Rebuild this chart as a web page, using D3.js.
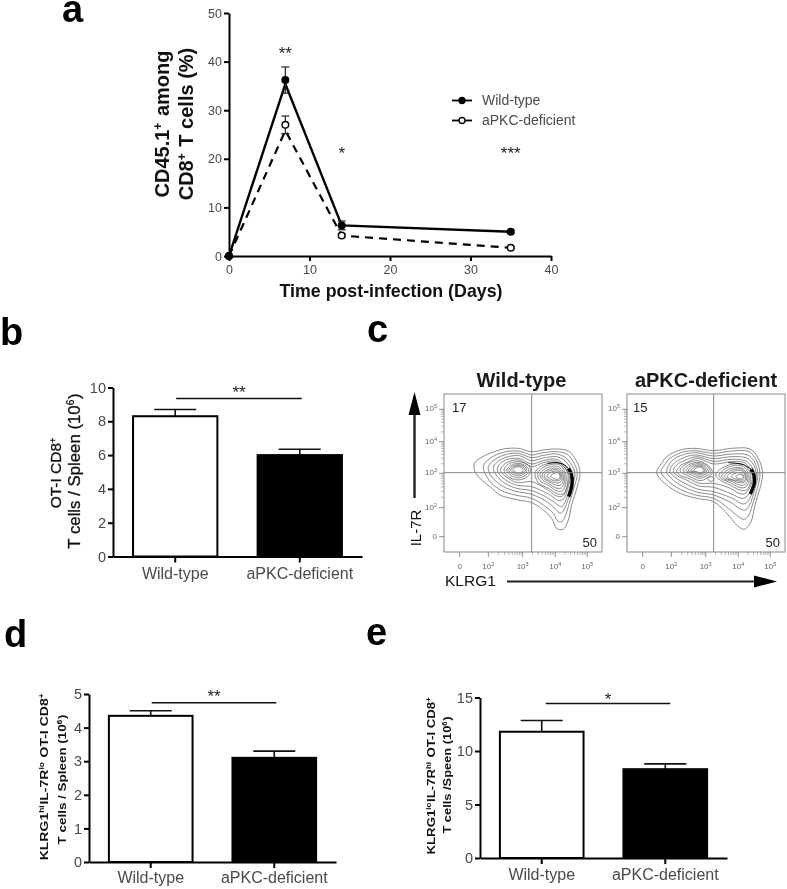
<!DOCTYPE html>
<html><head><meta charset="utf-8">
<script src="https://cdn.jsdelivr.net/npm/d3@7/dist/d3.min.js"></script>
<style>
html,body{margin:0;padding:0;background:#fff}
svg{display:block;filter:blur(.4px)}
text{font-family:"Liberation Sans",Arial,sans-serif}
</style></head><body>
<script>
// ---------- panel a ----------
const days=[0,7,14,35];
const wtLine=[0,35.4,6.3,5];
const koLine=[0,25.8,4.2,1.7];
const wtMean=[0,36.2,6.3,5];
const koMean=[0,27,4.2,1.7];
const wtErr=[0,2.7,0.9,0.3];
const koErr=[0,1.8,0.3,0.2];
const xTicksA=[0,10,20,30,40];
const yTicksA=[0,10,20,30,40,50];
const starsA=[[7,"**",40.6],[14,"*",20],[35,"***",20]];
const seriesNames=["Wild-type","aPKC-deficient"];
// ---------- bars ----------
const cats=["Wild-type","aPKC-deficient"];
const bMeans=[8.3,6.0], bErr=[0.4,0.35];
const dMeans=[4.35,3.1], dErr=[0.15,0.2];
const eMeans=[11.8,8.3], eErr=[1.05,0.5];
// ---------- flow: contour rings in channel units ----------
const flowTicks=[["0",null],["10","2"],["10","3"],["10","4"],["10","5"]];
const xTickChan=[59,145,248,346,442];
const yTickChan=[320,233,130,35,-62];
const gateX=[275,272], gateY=128;
const wtRings=[
[[103,100],[120,85],[150,70],[190,57],[235,55],[275,65],[310,60],[350,57],[385,63],[405,85],[420,125],[412,170],[395,225],[385,270],[370,298],[350,295],[335,265],[310,240],[275,218],[225,208],[180,195],[150,170],[125,150],[105,125]],
[[130,108],[150,85],[190,67],[235,63],[275,75],[310,68],[350,65],[380,72],[398,92],[412,128],[403,170],[388,220],[376,258],[365,275],[352,272],[340,250],[310,225],[275,205],[225,195],[185,182],[155,160],[135,130]],
[[145,110],[165,88],[200,73],[235,70],[275,83],[310,76],[350,72],[375,82],[392,100],[405,130],[396,170],[382,215],[370,243],[360,250],[345,235],[315,212],[275,193],[228,184],[190,170],[162,148],[148,128]],
[[160,112],[180,90],[205,80],[238,77],[275,92],[310,84],[350,80],[372,90],[388,108],[398,132],[390,170],[378,210],[365,230],[350,222],[320,202],[275,182],[230,175],[195,160],[172,140]],
[[172,115],[190,93],[235,85],[275,102],[310,92],[350,88],[385,120],[392,135],[385,170],[372,205],[358,212],[325,192],[275,170],[232,166],[200,152],[180,135]],
[[182,118],[200,98],[235,90],[275,110],[310,98],[350,94],[382,125],[388,140],[380,175],[368,198],[350,198],[320,178],[275,155],[232,158],[205,145],[188,132]],
[[192,120],[205,102],[235,95],[265,105],[272,122],[262,140],[235,150],[205,140]],
[[200,120],[212,106],[235,100],[258,108],[266,122],[256,136],[235,144],[210,134]],
[[206,120],[216,109],[235,104],[254,110],[260,122],[250,133],[235,138],[214,130]],
[[212,120],[220,111],[235,107],[250,112],[256,122],[246,130],[235,133],[219,127]],
[[218,120],[224,113],[235,110],[246,114],[250,122],[242,127],[235,129],[224,125]],
[[285,130],[300,110],[330,100],[360,100],[382,125],[383,155],[372,190],[355,192],[325,175],[295,158]],
[[293,132],[306,114],[332,104],[358,104],[376,128],[378,155],[368,182],[352,183],[325,166],[300,152]],
[[300,134],[312,118],[334,110],[356,110],[372,130],[374,155],[364,174],[348,174],[325,160],[306,148]],
[[306,136],[318,122],[336,116],[356,116],[368,132],[370,152],[360,166],[345,165],[325,154],[312,146]],
[[312,138],[322,125],[338,120],[354,120],[364,134],[366,150],[357,158],[343,158],[326,150],[316,144]],
[[320,138],[330,128],[342,124],[354,124],[362,136],[362,148],[354,152],[342,152],[330,146]],
[[332,138],[342,130],[354,128],[360,138],[358,146],[348,148],[338,144]]
];
const koRings=[
[[95,125],[110,100],[125,80],[165,60],[210,55],[265,62],[320,55],[375,57],[400,85],[413,130],[405,175],[390,225],[378,275],[358,298],[335,285],[310,255],[266,215],[215,205],[165,190],[125,165],[100,140]],
[[108,125],[122,100],[135,85],[170,67],[210,62],[265,70],[320,63],[372,65],[394,90],[405,132],[397,175],[382,225],[370,258],[357,268],[338,258],[310,235],[266,205],[215,196],[170,180],[135,158]],
[[125,125],[132,105],[145,88],[175,74],[212,68],[265,78],[320,72],[368,75],[388,95],[399,135],[390,175],[376,220],[362,240],[348,238],[318,218],[266,195],[218,187],[175,170],[142,148]],
[[135,125],[142,105],[178,82],[214,75],[265,86],[320,80],[365,84],[384,102],[394,135],[385,175],[370,212],[355,222],[322,205],[266,185],[220,178],[180,160],[150,142]],
[[145,125],[155,105],[182,90],[216,80],[265,94],[320,88],[360,92],[380,110],[388,135],[380,175],[365,200],[350,205],[320,192],[266,172],[222,168],[185,150],[158,138]],
[[155,125],[165,108],[188,96],[218,85],[265,102],[320,95],[358,98],[376,118],[383,140],[375,172],[358,192],[342,190],[316,175],[266,160],[224,160],[192,145],[165,136]],
[[165,122],[180,104],[220,92],[255,112],[262,128],[245,145],[225,152],[195,140]],
[[175,122],[188,106],[222,97],[250,112],[256,128],[240,140],[225,145],[198,134]],
[[183,122],[195,108],[222,101],[245,114],[250,126],[236,136],[225,140],[202,130]],
[[190,122],[202,110],[224,105],[240,115],[244,125],[233,132],[225,135],[207,128]],
[[198,122],[208,112],[224,108],[237,116],[240,124],[231,129],[225,131],[212,126]],
[[206,122],[214,114],[225,111],[234,118],[236,124],[229,127],[225,128],[215,125]],
[[248,146],[258,140],[268,146],[258,154]],
[[272,135],[290,115],[320,103],[355,104],[375,128],[377,155],[365,180],[345,180],[315,165],[285,150]],
[[282,137],[298,118],[322,108],[352,108],[370,130],[372,155],[360,172],[342,172],[316,158],[292,148]],
[[290,138],[304,122],[324,114],[350,114],[366,132],[368,153],[357,165],[340,164],[318,153],[298,147]],
[[298,139],[310,126],[328,118],[350,118],[362,134],[364,151],[354,158],[338,157],[320,150],[305,146]],
[[306,140],[318,128],[332,122],[350,122],[360,136],[360,150],[350,154],[336,152],[314,146]],
[[318,140],[330,130],[345,127],[356,137],[355,148],[346,150],[332,147]],
[[332,140],[345,132],[354,140],[350,146],[340,145]]
];
const wtDense=[[322,100],[345,98],[368,102],[385,115],[395,135],[396,165],[386,200]];
const koDense=[[310,98],[335,100],[355,104],[378,118],[387,135],[388,160],[376,192]];

const svg=d3.select("body").append("svg").attr("width",787).attr("height",889);
const G="#4a4a4a";

function rich(sel,parts,supSize){
  parts.forEach(p=>{
    if(Array.isArray(p)){
      sel.append("tspan").text(p[0]).attr("font-size",supSize).attr("dy",-supSize*.55);
      sel.append("tspan").text("\u200a").attr("font-size",supSize).attr("dy",supSize*.55);
    } else sel.append("tspan").text(p);
  });
}
function vlabel(x,y,parts,size,weight,fill,stretch,halo){
  const t=svg.append("text").attr("transform",`translate(${x},${y}) rotate(-90) scale(${stretch||1},1)`)
    .attr("text-anchor","middle").attr("font-size",size).attr("font-weight",weight).attr("fill",fill||"#111");
  if(halo) t.attr("stroke",fill||"#111").attr("stroke-width",halo);
  rich(t,parts,size*.6);
}
function panelLabel(s,x,y){svg.append("text").text(s).attr("x",x).attr("y",y).attr("font-size",38).attr("font-weight","bold").attr("fill","#000");}
function styleAxis(g,fs){
  g.selectAll("path,line").attr("stroke","#000").attr("stroke-width",2);
  g.selectAll("text").attr("font-size",fs).attr("fill",G).attr("font-family","'Liberation Sans',Arial,sans-serif");
}
panelLabel("a",62,22);panelLabel("b",0,345);panelLabel("c",367,342);panelLabel("d",4,647);panelLabel("e",366,645);

// ---------- panel a ----------
(function(){
  const x=d3.scaleLinear([0,40],[229,551]), y=d3.scaleLinear([0,50],[256,13]);
  const ax=svg.append("g").attr("transform","translate(0,256)").call(d3.axisBottom(x).tickValues(xTicksA).tickSize(5).tickSizeOuter(0).tickPadding(4));
  const ay=svg.append("g").attr("transform","translate(229,0)").call(d3.axisLeft(y).tickValues(yTicksA).tickSize(5).tickSizeOuter(0).tickPadding(2));
  styleAxis(ax,12.5);styleAxis(ay,12.5);
  const line=d3.line().x((d,i)=>x(days[i])).y(d=>y(d));
  svg.append("path").attr("d",line(wtLine)).attr("fill","none").attr("stroke","#000").attr("stroke-width",2.4);
  svg.append("path").attr("d",line(koLine)).attr("fill","none").attr("stroke","#000").attr("stroke-width",2.2).attr("stroke-dasharray","8,6");
  [[wtMean,wtErr,"#000"],[koMean,koErr,"#fff"]].forEach(([m,e,f])=>{
    m.forEach((v,i)=>{
      if(e[i]>0){
        svg.append("line").attr("x1",x(days[i])).attr("x2",x(days[i])).attr("y1",y(v-e[i])).attr("y2",y(v+e[i])).attr("stroke","#222").attr("stroke-width",1.2);
        [v-e[i],v+e[i]].forEach(c=>svg.append("line").attr("x1",x(days[i])-4).attr("x2",x(days[i])+4).attr("y1",y(c)).attr("y2",y(c)).attr("stroke","#222").attr("stroke-width",1.2));
      }
      svg.append("circle").attr("cx",x(days[i])).attr("cy",y(v)).attr("r",3.3).attr("fill",f==="#fff"&&i===0?"#000":f).attr("stroke","#000").attr("stroke-width",1.4);
    });
  });
  starsA.forEach(([d,s,v])=>svg.append("text").text(s).attr("x",x(d)).attr("y",y(v)).attr("text-anchor","middle").attr("font-size",17).attr("fill","#222"));
  seriesNames.forEach((n,i)=>{
    const ly=100.5+i*20;
    svg.append("line").attr("x1",452).attr("x2",472).attr("y1",ly).attr("y2",ly).attr("stroke","#000").attr("stroke-width",1.8);
    svg.append("circle").attr("cx",462).attr("cy",ly).attr("r",3).attr("fill",i?"#fff":"#000").attr("stroke","#000").attr("stroke-width",1.3);
    svg.append("text").text(n).attr("x",482).attr("y",ly+4.5).attr("font-size",14).attr("fill",G);
  });
  vlabel(169,124,["CD45.1",["+"]," among"],20,"bold");
  vlabel(193,124,["CD8",["+"]," T cells (%)"],20,"bold");
  svg.append("text").text("Time post-infection (Days)").attr("x",391).attr("y",297).attr("text-anchor","middle").attr("font-size",17.8).attr("font-weight","bold").attr("fill","#111");
})();

// ---------- bar panels ----------
function bars(o){
  const x=d3.scaleBand().domain(cats).range([o.x0,o.x1]).paddingInner(.323).paddingOuter(.161);
  const y=d3.scaleLinear([0,o.max],[o.y0,o.yTop]);
  o.means.forEach((m,i)=>{
    const c=x(cats[i])+x.bandwidth()/2, top=m+o.err[i];
    svg.append("line").attr("x1",c).attr("x2",c).attr("y1",y(m)).attr("y2",y(top)).attr("stroke","#111").attr("stroke-width",1.6);
    svg.append("line").attr("x1",c-21).attr("x2",c+21).attr("y1",y(top)).attr("y2",y(top)).attr("stroke","#111").attr("stroke-width",1.6);
    svg.append("rect").attr("x",x(cats[i])).attr("width",x.bandwidth()).attr("y",y(m)).attr("height",o.y0-y(m))
      .attr("fill",i?"#000":"#fff").attr("stroke","#000").attr("stroke-width",2);
  });
  const ax=svg.append("g").attr("transform",`translate(0,${o.y0})`).call(d3.axisBottom(x).tickSize(6).tickSizeOuter(0).tickPadding(o.padX));
  const ay=svg.append("g").attr("transform",`translate(${o.x0},0)`).call(d3.axisLeft(y).tickValues(o.ticks).tickFormat(d3.format("d")).tickSize(5).tickSizeOuter(0).tickPadding(2));
  styleAxis(ax,16);styleAxis(ay,o.fsY);
  const cs=cats.map(c=>x(c)+x.bandwidth()/2);
  svg.append("line").attr("x1",cs[0]+o.sigOff).attr("x2",cs[1]+o.sigOff+1).attr("y1",y(o.sig)).attr("y2",y(o.sig)).attr("stroke","#111").attr("stroke-width",1.5);
  svg.append("text").text(o.stars).attr("x",(cs[0]+cs[1])/2+o.sigOff+.5).attr("y",y(o.sig)+o.starDy).attr("text-anchor","middle").attr("font-size",17).attr("fill","#222");
}
bars({x0:113,x1:362,y0:556.5,yTop:387.5,max:10,means:bMeans,err:bErr,ticks:[0,2,4,6,8,10],sig:9.35,sigOff:1,stars:"**",starDy:0,padX:5,fsY:14.5});
bars({x0:89,x1:336,y0:862,yTop:694,max:5,means:dMeans,err:dErr,ticks:[0,1,2,3,4,5],sig:4.74,sigOff:1,stars:"**",starDy:-1,padX:4,fsY:14.5});
bars({x0:480,x1:727,y0:858,yTop:697.5,max:15,means:eMeans,err:eErr,ticks:[0,5,10,15],sig:14.44,sigOff:4,stars:"*",starDy:2,padX:5,fsY:14.5});

vlabel(61,472.5,["OT-I CD8",["+"]],15.5,"normal","#111",1,.3);
vlabel(80,471,["T cells / Spleen (10",["6"],")"],16.8,"normal","#111",1,.3);
vlabel(48,776.5,["KLRG1",["hi"],"IL-7R",["lo"]," OT-I CD8",["+"]],11.5,"bold","#111",1.22);
vlabel(66,779.5,["T cells / Spleen (10",["6"],")"],11.5,"bold","#111",1.17);
vlabel(435,775.5,["KLRG1",["lo"],"IL-7R",["hi"]," OT-I CD8",["+"]],11.5,"bold","#111",1.15);
vlabel(451,775,["T cells /Speen (10",["6"],")"],11.5,"bold","#111",1.12);

// ---------- flow panels ----------
function flow(o){
  const g=svg.append("g").attr("transform",`translate(${o.left},394)`);
  const x=d3.scaleLinear([o.chan0,o.chan0+474],[0,158]);
  const y=d3.scaleLinear([-108,366],[0,158]);
  const ring=d3.line().x(d=>x(d[0])).y(d=>y(d[1])).curve(d3.curveCatmullRomClosed.alpha(.5));
  const open=d3.line().x(d=>x(d[0])).y(d=>y(d[1])).curve(d3.curveCatmullRom.alpha(.5));
  o.rings.forEach(r=>g.append("path").attr("d",ring(r)).attr("fill","none").attr("stroke","#4d4d4d").attr("stroke-width",.65));
  g.append("path").attr("d",open(o.dense.slice(0,4))).attr("fill","none").attr("stroke","#000").attr("stroke-width",1);
  g.append("path").attr("d",open(o.dense.slice(3))).attr("fill","none").attr("stroke","#000").attr("stroke-width",3.4);
  g.append("line").attr("x1",x(o.gate)).attr("x2",x(o.gate)).attr("y1",0).attr("y2",158).attr("stroke","#888").attr("stroke-width",1);
  g.append("line").attr("x1",0).attr("x2",158).attr("y1",y(gateY)).attr("y2",y(gateY)).attr("stroke","#888").attr("stroke-width",1);
  g.append("rect").attr("width",158).attr("height",158).attr("fill","none").attr("stroke","#888").attr("stroke-width",1);
  const xs=d3.scaleLinear([o.chan0,o.chan0+474],[0,158]);
  flowTicks.forEach((t,i)=>{
    const xc=xs(xTickChan[i]+o.chan0-12), yc=y(yTickChan[i]);
    g.append("line").attr("x1",xc).attr("x2",xc).attr("y1",158).attr("y2",163).attr("stroke","#777").attr("stroke-width",.8);
    g.append("line").attr("x1",0).attr("x2",-5).attr("y1",yc).attr("y2",yc).attr("stroke","#777").attr("stroke-width",.8);
    if(i>0&&i<4) d3.range(2,10).forEach(k=>{
      const f=Math.log10(k);
      const xm=xs(xTickChan[i]+o.chan0-12+f*(xTickChan[i+1]-xTickChan[i]));
      const ym=y(yTickChan[i]+f*(yTickChan[i+1]-yTickChan[i]));
      g.append("line").attr("x1",xm).attr("x2",xm).attr("y1",158).attr("y2",161).attr("stroke","#888").attr("stroke-width",.6);
      g.append("line").attr("x1",0).attr("x2",-3).attr("y1",ym).attr("y2",ym).attr("stroke","#888").attr("stroke-width",.6);
    });
    const tx=g.append("text").attr("x",xc).attr("y",175).attr("text-anchor","middle").attr("font-size",8).attr("fill","#666");
    const ty=g.append("text").attr("x",-7).attr("y",yc+2).attr("text-anchor","end").attr("font-size",8).attr("fill","#666");
    [tx,ty].forEach(s=>{
      s.append("tspan").text(t[0]);
      if(t[1]) s.append("tspan").text(t[1]).attr("font-size",5.5).attr("dy",-3);
    });
  });
  g.append("text").text(o.topNum).attr("x",o.topX).attr("y",18).attr("font-size",13).attr("fill","#222");
  g.append("text").text("50").attr("x",153).attr("y",153).attr("text-anchor","end").attr("font-size",13).attr("fill","#222");
  svg.append("text").text(o.title).attr("x",o.tx).attr("y",387).attr("text-anchor","middle").attr("font-size",o.ts).attr("font-weight","bold").attr("fill","#1a1a1a");
}
flow({left:444,chan0:12,rings:wtRings,dense:wtDense,gate:gateX[0],topNum:"17",topX:8,title:"Wild-type",tx:521.5,ts:20});
flow({left:627,chan0:6,rings:koRings,dense:koDense,gate:gateX[1]-6,topNum:"15",topX:6,title:"aPKC-deficient",tx:706,ts:20});

// flow axis names and arrows
const arrowLine=(x1,y1,x2,y2,w)=>svg.append("line").attr("x1",x1).attr("y1",y1).attr("x2",x2).attr("y2",y2).attr("stroke","#222").attr("stroke-width",w);
arrowLine(414.5,498,414.5,412,2.4);
svg.append("path").attr("d",d3.line()([[408.5,415],[420.5,415],[414.5,392]])+"Z").attr("fill","#000");
arrowLine(507,581.5,756,581.5,2);
svg.append("path").attr("d",d3.line()([[754,575.5],[754,587.5],[777,581.5]])+"Z").attr("fill","#000");
vlabel(421,528,["IL-7R"],15,"normal","#111");
svg.append("text").text("KLRG1").attr("x",445).attr("y",586).attr("font-size",15.5).attr("fill","#111");
</script>
</body></html>
